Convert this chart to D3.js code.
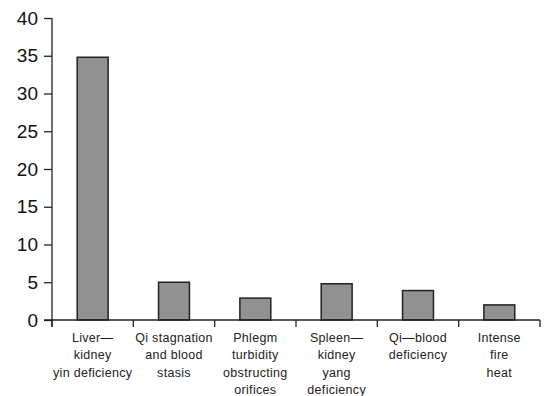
<!DOCTYPE html>
<html><head><meta charset="utf-8">
<script src="https://cdn.jsdelivr.net/npm/d3@7"></script>
<style>body{margin:0;background:#fff}svg{display:block}</style>
</head><body>
<svg id="c" width="544" height="396"></svg>
<script>
const categories = [
  ["Liver\u2014", "kidney", "yin deficiency"],
  ["Qi stagnation", "and blood", "stasis"],
  ["Phlegm", "turbidity", "obstructing", "orifices"],
  ["Spleen\u2014", "kidney", "yang", "deficiency"],
  ["Qi\u2014blood", "deficiency"],
  ["Intense", "fire", "heat"]
];
const values = [34.8, 5.0, 2.9, 4.8, 3.9, 2.0];
const yTicks = [0, 5, 10, 15, 20, 25, 30, 35, 40];

(function () {
const svg = d3.select("#c");
const mLeft = 52, mRight = 540, mTop = 18, mBottom = 320;
const font = "'Liberation Sans', Arial, sans-serif";

const x = d3.scaleBand().domain(d3.range(values.length)).range([mLeft, mRight]).paddingInner(0).paddingOuter(0);
const y = d3.scaleLinear().domain([0, 40]).range([mBottom, mTop]);

const bw = x.bandwidth() * 0.38;
svg.append("g").selectAll("rect").data(values).join("rect")
  .attr("x", (d, i) => x(i) + x.bandwidth() / 2 - bw / 2)
  .attr("y", d => y(d))
  .attr("width", bw)
  .attr("height", d => y(0) - y(d))
  .attr("fill", "#919191")
  .attr("stroke", "#222")
  .attr("stroke-width", 1.5);

// y axis
const ya = svg.append("g").attr("transform", `translate(${mLeft},0)`)
  .call(d3.axisLeft(y).tickValues(yTicks).tickSize(8).tickPadding(6).tickFormat(d3.format("d")));
ya.select(".domain").attr("d", `M0,${mTop}V${mBottom + 7}`).attr("stroke", "#222").attr("stroke-width", 1.3);
ya.selectAll(".tick line").attr("stroke", "#222").attr("stroke-width", 1.3);
ya.selectAll(".tick text").attr("font-family", font).attr("font-size", 19).attr("fill", "#111");

// x axis
const xa = svg.append("g").attr("transform", `translate(0,${mBottom})`);
xa.append("line").attr("x1", mLeft - 8).attr("x2", mRight).attr("y1", 0).attr("y2", 0)
  .attr("stroke", "#222").attr("stroke-width", 1.3);
const bounds = d3.range(values.length + 1).map(i => i < values.length ? x(i) : x(values.length - 1) + x.bandwidth());
xa.selectAll("line.t").data(bounds).join("line").attr("class", "t")
  .attr("x1", d => d).attr("x2", d => d).attr("y1", 0).attr("y2", 7)
  .attr("stroke", "#222").attr("stroke-width", 1.3);

const lab = svg.append("g");
categories.forEach((lines, i) => {
  const cx = x(i) + x.bandwidth() / 2;
  const t = lab.append("text")
    .attr("x", cx)
    .attr("y", 342)
    .attr("text-anchor", "middle")
    .attr("font-family", font)
    .attr("font-size", 12.5)
    .attr("letter-spacing", 0.3)
    .attr("fill", "#222");
  lines.forEach((ln, j) => {
    t.append("tspan").attr("x", cx).attr("dy", j === 0 ? 0 : 17.3).text(ln);
  });
});
})();
</script>
</body></html>
